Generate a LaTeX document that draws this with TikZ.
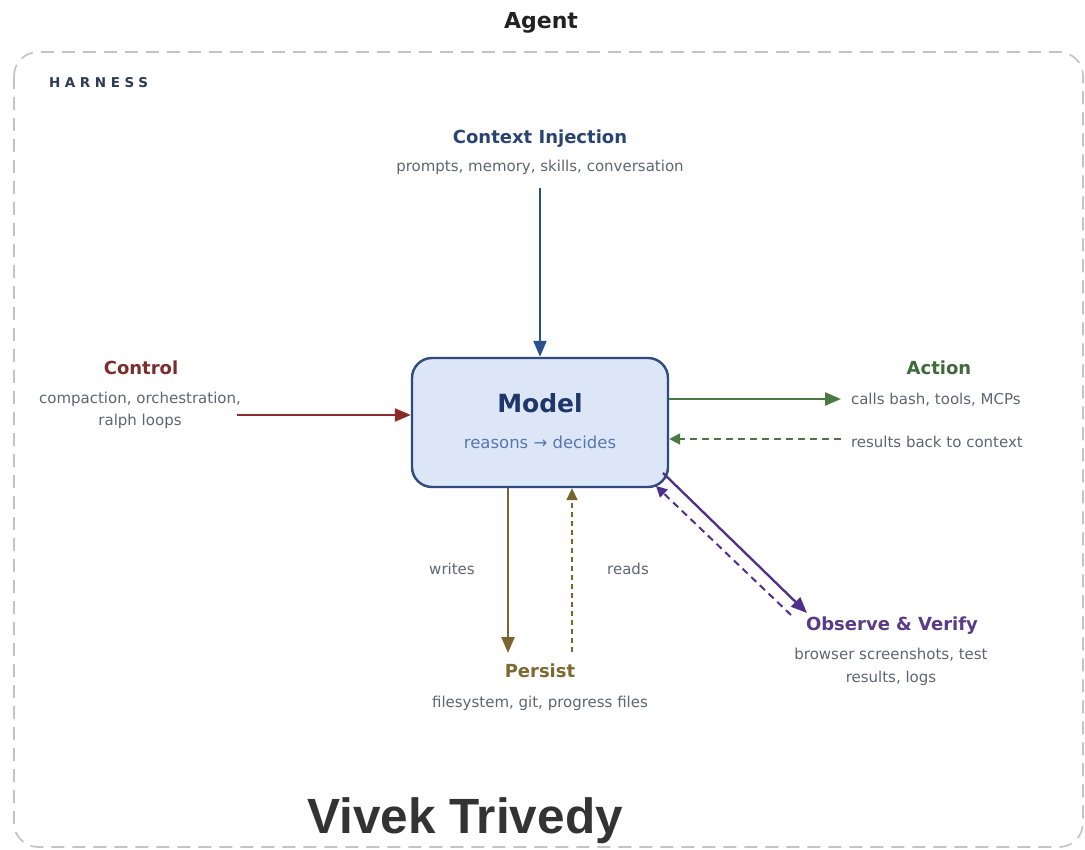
\documentclass[tikz,border=0pt]{standalone}
\usepackage{fontspec}
\setmainfont{DejaVu Sans}
\newfontfamily\sigfont{Liberation Sans}
\usetikzlibrary{arrows.meta}

\definecolor{framegray}{HTML}{C4C4C4}
\definecolor{agentink}{HTML}{222222}
\definecolor{harnessink}{HTML}{2F3A55}
\definecolor{subgray}{HTML}{5F6670}
\definecolor{ctxink}{HTML}{2A4470}
\definecolor{ctxline}{HTML}{2B4F8C}
\definecolor{modelfill}{HTML}{DCE6F7}
\definecolor{modelline}{HTML}{2F4A7F}
\definecolor{modelink}{HTML}{1E3668}
\definecolor{modelsub}{HTML}{5877AD}
\definecolor{ctlink}{HTML}{7B2D2D}
\definecolor{ctlline}{HTML}{8A2A2A}
\definecolor{actink}{HTML}{3F6B3A}
\definecolor{actline}{HTML}{4A7A42}
\definecolor{perink}{HTML}{7D6A32}
\definecolor{perline}{HTML}{7A6530}
\definecolor{obsink}{HTML}{5A3B87}
\definecolor{obsline}{HTML}{4F2F8A}
\definecolor{sigink}{HTML}{333333}

\tikzset{
  txt/.style={anchor=base, inner sep=0pt, outer sep=0pt},
  title/.style={txt, font=\fontsize{18}{21}\selectfont\bfseries},
  sub/.style={txt, font=\fontsize{15}{17}\selectfont, text=subgray},
  modelbox/.style={draw=modelline, fill=modelfill, line width=2.4pt,
    rounded corners=20pt, minimum width=256pt, minimum height=129pt, inner sep=0pt},
  conn/.style={line width=2.3pt, -{Triangle[length=16pt,width=13pt]}},
  back/.style={line width=2pt, dash pattern=on 7pt off 5pt, -{Triangle[length=11pt,width=11pt]}},
}

\begin{document}
\begin{tikzpicture}[x=1pt,y=-1pt]
  \useasboundingbox (0,0) rectangle (1085,850);
  \fill[white] (0,0) rectangle (1085,850);

  % harness outline
  \draw[framegray, line width=1.7pt, dash pattern=on 13pt off 8pt, rounded corners=24pt]
    (14,52) rectangle (1083,847);

  \node[txt, font=\fontsize{22}{26}\selectfont\bfseries, text=agentink] (agent) at (541,29) {Agent};
  \node[txt, anchor=base west, font=\fontsize{13.5}{16}\selectfont\bfseries\addfontfeatures{LetterSpace=34}, text=harnessink] (harness) at (49,88) {HARNESS};

  % model
  \node[modelbox] (model) at (540,422.5) {};
  \node[txt, font=\fontsize{25}{30}\selectfont\bfseries, text=modelink] (modeltitle) at (540,413) {Model};
  \node[txt, font=\fontsize{16.5}{19}\selectfont, text=modelsub] (modelsub) at (540,448) {reasons → decides};

  % context injection
  \node[title, text=ctxink] (ctx) at (540,144) {Context Injection};
  \node[sub] (ctxsub) at (540,172) {prompts, memory, skills, conversation};
  \coordinate (ctxstart) at (540,188);
  \draw[conn, ctxline] (ctxstart) -- (model.north);

  % control
  \node[title, text=ctlink] (ctl) at (141,375) {Control};
  \node[sub] (ctlsub1) at (140,403) {compaction, orchestration,};
  \node[sub] (ctlsub2) at (140,425) {ralph loops};
  \coordinate (ctlstart) at (237,415);
  \draw[conn, ctlline] (ctlstart) -- (model.west |- ctlstart);

  % action
  \node[title, text=actink] (act) at (939,375) {Action};
  \coordinate (acttip) at (841,399);
  \coordinate (resstart) at (841,439);
  \node[sub, anchor=base west] (actsub) at (851,405) {calls bash, tools, MCPs};
  \node[sub, anchor=base west] (ressub) at (851,447) {results back to context};
  \draw[conn, actline] (model.east |- acttip) -- (acttip);
  \draw[back, actline] (resstart) -- (model.east |- resstart);

  % persist
  \node[title, text=perink] (per) at (540,677) {Persist};
  \node[sub] (persub) at (540,707) {filesystem, git, progress files};
  \node[sub] (writes) at (452,574) {writes};
  \node[sub] (reads) at (628,574) {reads};
  \coordinate (wtip) at (508,653);
  \coordinate (rstart) at (572,652);
  \draw[conn, perline] (model.south -| wtip) -- (wtip);
  \draw[perline, line width=2pt, dash pattern=on 5pt off 4pt, -{Triangle[length=12pt,width=11pt]}]
    (rstart) -- (model.south -| rstart);

  % observe and verify
  \node[title, text=obsink] (obs) at (892,630) {Observe \& Verify};
  \node[sub] (obssub1) at (891,659) {browser screenshots, test};
  \node[sub] (obssub2) at (891,682) {results, logs};
  \coordinate (obsfrom) at (663,473);
  \coordinate (obstip) at (807,613);
  \coordinate (obsback) at (791,615);
  \coordinate (obsbacktip) at (656,486);
  \draw[conn, obsline] (obsfrom) -- (obstip);
  \draw[back, obsline] (obsback) -- (obsbacktip);

  % signature
  \node[txt, font=\sigfont\fontsize{49.5}{56}\selectfont\bfseries, text=sigink] (sig) at (465,833) {Vivek Trivedy};
\end{tikzpicture}
\end{document}
